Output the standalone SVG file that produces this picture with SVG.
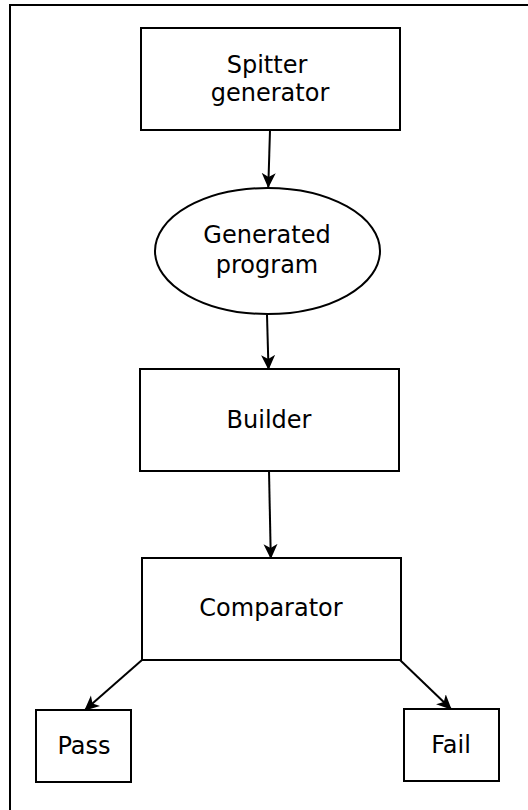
<svg xmlns="http://www.w3.org/2000/svg" width="528" height="810" viewBox="0 0 528 810">
<defs>
<marker id="ah" markerWidth="16" markerHeight="16" refX="14" refY="7.5" orient="auto" markerUnits="userSpaceOnUse">
<path d="M0,0.5 L15,7.5 L0,14.5 L4,7.5 Z" fill="#000"/>
</marker>
<style>
.box{fill:#fff;stroke:#000;stroke-width:2}
.lbl{font-family:"DejaVu Sans",sans-serif;font-size:24px;fill:#000;text-anchor:middle}
.edge{fill:none;stroke:#000;stroke-width:2;marker-end:url(#ah)}
</style>
</defs>
<rect x="0" y="0" width="528" height="810" fill="#fff"/>
<rect x="10" y="5" width="530" height="820" fill="none" stroke="#000" stroke-width="2"/>
<g id="connectors">
<line class="edge" x1="270" y1="130" x2="268.3" y2="187"/>
<line class="edge" x1="267" y1="315" x2="268.5" y2="369"/>
<line class="edge" x1="269" y1="471" x2="270.8" y2="558"/>
<line class="edge" x1="142" y1="660" x2="85" y2="710"/>
<line class="edge" x1="400" y1="660" x2="451" y2="709"/>
</g>
<g id="spitter">
<rect class="box" x="141" y="28" width="259" height="102"/>
<text class="lbl" x="267" y="73">Spitter</text>
<text class="lbl" x="270" y="101">generator</text>
</g>
<g id="generated">
<ellipse class="box" cx="267.5" cy="251" rx="112.5" ry="63"/>
<text class="lbl" x="267" y="243">Generated</text>
<text class="lbl" x="267" y="273">program</text>
</g>
<g id="builder">
<rect class="box" x="140" y="369" width="259" height="102"/>
<text class="lbl" x="269" y="428">Builder</text>
</g>
<g id="comparator">
<rect class="box" x="142" y="558" width="259" height="102"/>
<text class="lbl" x="271" y="616">Comparator</text>
</g>
<g id="pass">
<rect class="box" x="36" y="710" width="95" height="72"/>
<text class="lbl" x="84" y="754">Pass</text>
</g>
<g id="fail">
<rect class="box" x="404" y="709" width="95" height="72"/>
<text class="lbl" x="451" y="753">Fail</text>
</g>
</svg>
